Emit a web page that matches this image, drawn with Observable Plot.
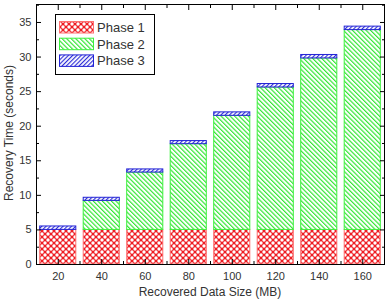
<!DOCTYPE html>
<html><head><meta charset="utf-8">
<script src="https://cdn.jsdelivr.net/npm/d3@7"></script>
<script src="https://cdn.jsdelivr.net/npm/@observablehq/plot@0.6"></script>
<style>
body{margin:0;background:#fff;font-family:"Liberation Sans",Arial,sans-serif;}
#wrap{position:relative;width:391px;height:302px;}
#legend{position:absolute;left:0;top:0;pointer-events:none;}
</style></head><body>
<svg width="0" height="0" style="position:absolute">
<defs>
<pattern id="p1" width="6" height="6" patternUnits="userSpaceOnUse">
  <rect width="6" height="6" fill="#ee1c22"/>
  <circle cx="0" cy="0" r="1.7" fill="#fff"/>
  <circle cx="6" cy="0" r="1.7" fill="#fff"/>
  <circle cx="0" cy="6" r="1.7" fill="#fff"/>
  <circle cx="6" cy="6" r="1.7" fill="#fff"/>
  <circle cx="3" cy="3" r="1.7" fill="#fff"/>
</pattern>
<pattern id="p2" width="3.2" height="10" patternUnits="userSpaceOnUse" patternTransform="rotate(-45)">
  <rect width="3.2" height="10" fill="#fff"/>
  <line x1="0.6" y1="0" x2="0.6" y2="10" stroke="#26e626" stroke-width="1.1"/>
</pattern>
<pattern id="p3" width="3" height="10" patternUnits="userSpaceOnUse" patternTransform="rotate(45)">
  <rect width="3" height="10" fill="#fff"/>
  <line x1="0.6" y1="0" x2="0.6" y2="10" stroke="#2323d6" stroke-width="1.1"/>
</pattern>
</defs></svg>
<div id="wrap"></div>
<script>
const sizes = [20, 40, 60, 80, 100, 120, 140, 160];
const phase1 = [5, 5, 5, 5, 5, 5, 5, 5];
const phase2 = [0, 4.2, 8.3, 12.4, 16.5, 20.6, 24.8, 28.9];
const phase3 = [0.5, 0.45, 0.45, 0.45, 0.5, 0.5, 0.5, 0.5];
const phases = ["Phase 1", "Phase 2", "Phase 3"];
const yMajor = [0, 5, 10, 15, 20, 25, 30, 35];
const yMinor = [2.5, 7.5, 12.5, 17.5, 22.5, 27.5, 32.5, 37.5];
const xMinor = [30, 50, 70, 90, 110, 130, 150];

const fills = {"Phase 1": "url(#p1)", "Phase 2": "url(#p2)", "Phase 3": "url(#p3)"};
const strokes = {"Phase 1": "#ff7070", "Phase 2": "#3cf03c", "Phase 3": "#2323d6"};

const series = [phase1, phase2, phase3];
const data = [];
sizes.forEach((s, i) => {
  phases.forEach((p, k) => data.push({size: s, phase: p, value: series[k][i]}));
});

const tc = "#333";
const chart = Plot.plot({
  width: 391,
  height: 302,
  marginLeft: 36,
  marginRight: 7,
  marginTop: 4,
  marginBottom: 38,
  style: {fontFamily: "'Liberation Sans', Arial, sans-serif", fontSize: "11px", background: "#fff", overflow: "visible"},
  x: {domain: [10, 170]},
  y: {domain: [0, 37.6]},
  marks: [
    Plot.rectY(data, Plot.stackY({
      x1: d => d.size - 10, x2: d => d.size + 10,
      y: "value", z: "phase",
      insetLeft: 3.7, insetRight: 3.7,
      fill: d => fills[d.phase], stroke: d => strokes[d.phase], strokeWidth: 1
    })),
    Plot.frame({stroke: "#000", strokeWidth: 1}),
    Plot.axisY(yMajor, {anchor: "left", tickSize: 0, tickPadding: 5, fill: tc, fontSize: 11, label: null}),
    Plot.axisX(sizes, {anchor: "bottom", tickSize: 0, tickPadding: 8, fill: tc, fontSize: 11, label: null}),
    Plot.axisY(yMajor, {anchor: "left", tickSize: -5, text: null, label: null, stroke: "#000"}),
    Plot.axisY(yMinor.filter(v => v < 37.6), {anchor: "left", tickSize: -3, text: null, label: null, stroke: "#000"}),
    Plot.axisY(yMajor, {anchor: "right", tickSize: -5, text: null, label: null, stroke: "#000"}),
    Plot.axisY(yMinor.filter(v => v < 37.6), {anchor: "right", tickSize: -3, text: null, label: null, stroke: "#000"}),
    Plot.axisX(sizes, {anchor: "bottom", tickSize: -5, text: null, label: null, stroke: "#000"}),
    Plot.axisX(xMinor, {anchor: "bottom", tickSize: -3, text: null, label: null, stroke: "#000"}),
    Plot.axisX(sizes, {anchor: "top", tickSize: -5, text: null, label: null, stroke: "#000"}),
    Plot.axisX(xMinor, {anchor: "top", tickSize: -3, text: null, label: null, stroke: "#000"})
  ]
});
const wrap = document.getElementById("wrap");
wrap.appendChild(chart);

const svg = d3.select(chart);
svg.append("text")
  .attr("x", 210).attr("y", 296)
  .attr("text-anchor", "middle")
  .attr("font-size", 12).attr("fill", tc)
  .text("Recovered Data Size (MB)");
svg.append("text")
  .attr("transform", "translate(13,133) rotate(-90)")
  .attr("text-anchor", "middle")
  .attr("font-size", 12).attr("fill", tc)
  .text("Recovery Time (seconds)");

const lg = d3.select(wrap).append("svg").attr("id", "legend").attr("width", 391).attr("height", 302);
lg.append("rect").attr("x", 55.5).attr("y", 14.5).attr("width", 99).attr("height", 60)
  .attr("fill", "#fff").attr("stroke", "#000").attr("stroke-width", 1);
phases.forEach((p, k) => {
  const y = 21.5 + k * 16.7;
  lg.append("rect").attr("x", 59.5).attr("y", y).attr("width", 34).attr("height", 11.5)
    .attr("fill", fills[p]).attr("stroke", strokes[p]).attr("stroke-width", 1);
  lg.append("text").attr("x", 97).attr("y", y + 10.5)
    .attr("font-size", 13).attr("fill", tc)
    .attr("font-family", "'Liberation Sans', Arial, sans-serif")
    .text(p);
});
</script>
</body></html>
